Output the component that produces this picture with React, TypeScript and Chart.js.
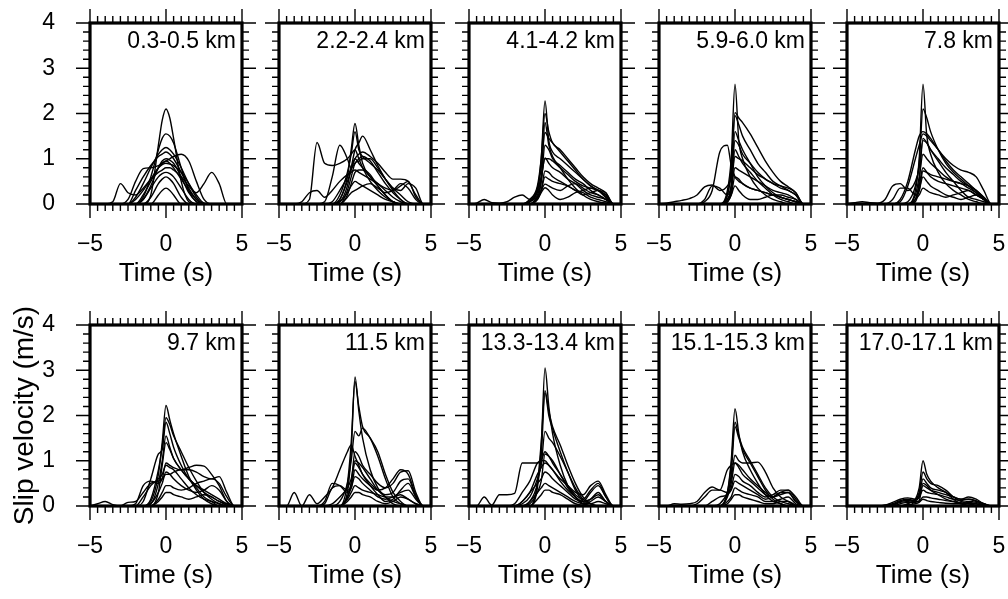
import React, { useEffect, useRef } from "react";
import { Chart, registerables } from "chart.js";
Chart.register(...registerables);

// Shared time samples (s)
const TIME = [-5, -4.5, -4, -3.5, -3, -2.5, -2, -1.5, -1, -0.5, -0.25, 0, 0.25, 0.5, 1, 1.5, 2, 2.5, 3, 3.5, 4, 4.5, 5];
const X_TICKS = [-5, 0, 5];
const Y_TICKS = [0, 1, 2, 3, 4];
const X_MINOR_STEP = 0.5;
const Y_MINOR_STEP = 0.2;
const X_TITLE = "Time (s)";
const Y_TITLE = "Slip velocity (m/s)";
const PANEL_LABELS = [
  "0.3-0.5 km", "2.2-2.4 km", "4.1-4.2 km", "5.9-6.0 km", "7.8 km",
  "9.7 km", "11.5 km", "13.3-13.4 km", "15.1-15.3 km", "17.0-17.1 km",
];

// Slip velocity curves (m/s), one row per curve, sampled at TIME
const P1 = [
  [0,0,0,0,0,0,0,0,0.2,1.3,1.85,2.1,1.9,1.45,0.5,0.05,0,0,0,0,0,0,0],
  [0,0,0,0,0,0,0,0.15,0.6,1.2,1.45,1.55,1.5,1.35,0.8,0.3,0.05,0,0,0,0,0,0],
  [0,0,0,0,0,0,0.15,0.45,0.8,1.1,1.2,1.25,1.2,1.1,0.8,0.45,0.15,0,0,0,0,0,0],
  [0,0,0,0,0,0,0,0.2,0.5,0.8,0.9,0.95,1.0,1.05,1.1,0.95,0.5,0.1,0,0,0,0,0],
  [0,0,0,0,0,0,0.3,0.6,0.85,1.05,1.1,1.15,1.1,1.0,0.7,0.35,0.1,0,0,0,0,0,0],
  [0,0,0,0,0,0.1,0.5,0.78,0.8,0.85,0.9,0.95,0.9,0.8,0.55,0.3,0.1,0,0,0,0,0,0],
  [0,0,0,0.05,0.45,0.25,0.2,0.35,0.55,0.7,0.75,0.8,0.8,0.75,0.6,0.4,0.25,0.45,0.7,0.45,0,0,0],
  [0,0,0,0,0,0,0,0.1,0.35,0.6,0.67,0.7,0.67,0.6,0.35,0.1,0,0,0,0,0,0,0],
  [0,0,0,0,0,0,0,0,0.15,0.45,0.55,0.6,0.55,0.45,0.15,0,0,0,0,0,0,0,0],
  [0,0,0,0,0,0,0,0,0,0.2,0.3,0.35,0.3,0.2,0,0,0,0,0,0,0,0,0],
  [0,0,0,0,0,0,0.1,0.3,0.55,0.8,0.87,0.9,0.88,0.85,0.7,0.45,0.2,0.02,0,0,0,0,0],
  [0,0,0,0,0,0,0,0.1,0.4,0.8,0.95,1.0,0.97,0.9,0.6,0.25,0.05,0,0,0,0,0,0],
];
const P2 = [
  [0,0,0,0,0,0,0,0,0.1,0.6,1.2,1.78,1.3,0.9,0.6,0.4,0.2,0.05,0,0,0,0,0],
  [0,0,0,0,0,0,0,0,0.2,0.7,1.1,1.6,1.2,1.05,0.9,0.75,0.55,0.35,0.2,0.05,0,0,0],
  [0,0,0,0,0.1,1.36,0.9,0.85,0.9,1.0,1.1,1.2,1.0,0.8,0.5,0.3,0.15,0.05,0,0,0,0,0],
  [0,0,0,0,0,0,0.05,0.6,1.3,1.0,0.8,0.9,1.0,1.05,0.95,0.7,0.45,0.25,0.1,0,0,0,0],
  [0,0,0,0.05,0.25,0.3,0.15,0.3,0.5,0.65,0.7,0.75,0.7,0.65,0.55,0.45,0.35,0.3,0.4,0.5,0.15,0,0],
  [0,0,0,0,0,0,0,0,0.05,0.4,0.8,1.2,1.35,1.5,1.2,0.85,0.55,0.3,0.1,0,0,0,0],
  [0,0,0,0,0,0,0,0,0.1,0.5,0.75,1.0,1.1,1.15,1.05,0.9,0.7,0.55,0.55,0.5,0.2,0,0],
  [0,0,0,0,0,0,0,0,0,0.3,0.6,0.9,0.95,1.0,1.0,0.8,0.55,0.35,0.3,0.45,0.35,0,0],
  [0,0,0,0,0,0,0,0,0,0.2,0.45,0.7,0.75,0.75,0.6,0.45,0.3,0.15,0.05,0,0,0,0],
  [0,0,0,0,0,0,0,0,0.05,0.25,0.4,0.5,0.45,0.4,0.3,0.2,0.1,0.05,0,0,0,0,0],
  [0,0,0,0,0,0,0,0.05,0.3,0.6,0.8,1.0,0.9,0.8,0.65,0.4,0.2,0.05,0,0,0,0,0],
  [0,0,0,0,0,0,0,0,0,0.15,0.25,0.3,0.35,0.4,0.45,0.35,0.25,0.3,0.45,0.35,0.1,0,0],
];
const P3 = [
  [0,0,0,0,0,0,0,0,0.05,0.3,1.0,2.28,1.4,1.15,1.0,0.85,0.7,0.55,0.4,0.3,0.15,0,0],
  [0,0,0,0,0,0,0,0,0.1,0.4,1.0,2.0,1.6,1.35,1.2,1.0,0.8,0.6,0.45,0.35,0.25,0,0],
  [0,0,0,0,0,0,0,0,0.1,0.35,0.8,1.58,1.45,1.35,1.15,0.95,0.75,0.55,0.4,0.3,0.2,0,0],
  [0,0,0,0,0,0,0,0,0.05,0.3,0.6,1.0,1.0,0.95,0.8,0.65,0.5,0.4,0.35,0.3,0.25,0,0],
  [0,0,0,0,0,0,0,0,0.05,0.25,0.55,1.02,0.9,0.8,0.7,0.55,0.45,0.3,0.2,0.15,0.1,0,0],
  [0,0.02,0.1,0.03,0.02,0.05,0.15,0.2,0.1,0.15,0.3,0.73,0.7,0.6,0.5,0.4,0.3,0.25,0.15,0.1,0.05,0,0],
  [0,0,0,0,0,0,0,0,0,0.15,0.3,0.44,0.4,0.35,0.3,0.4,0.45,0.35,0.25,0.2,0.1,0,0],
  [0,0,0,0,0,0,0,0,0,0.1,0.25,0.36,0.3,0.2,0.1,0.15,0.25,0.3,0.35,0.3,0.15,0,0],
  [0,0,0,0,0,0,0,0,0,0.2,0.5,1.3,1.2,1.0,0.85,0.7,0.55,0.45,0.3,0.2,0.1,0,0],
  [0,0,0,0,0,0,0,0,0,0.1,0.3,0.6,0.55,0.5,0.45,0.4,0.3,0.2,0.25,0.3,0.2,0,0],
  [0,0,0,0,0,0,0,0,0,0.15,0.5,1.8,1.3,1.05,0.8,0.55,0.35,0.2,0.1,0.05,0.02,0,0],
];
const P4 = [
  [0,0,0,0,0,0,0,0,0,0.3,1.0,2.65,1.4,1.0,0.6,0.35,0.2,0.1,0.05,0,0,0,0],
  [0,0,0,0,0,0,0,0,0,0.2,0.8,2.02,1.9,1.8,1.55,1.25,0.95,0.7,0.5,0.38,0.25,0,0],
  [0,0,0,0,0,0,0,0,0,0.2,0.7,1.95,1.75,1.5,1.2,0.9,0.7,0.5,0.4,0.3,0.2,0,0],
  [0,0,0,0,0,0,0.05,0.3,1.15,1.3,0.85,0.6,0.5,0.45,0.35,0.3,0.25,0.2,0.15,0.1,0.05,0,0],
  [0,0.02,0.05,0.08,0.12,0.2,0.38,0.42,0.3,0.4,0.6,1.4,1.3,1.1,0.9,0.7,0.55,0.45,0.35,0.3,0.2,0,0],
  [0,0,0,0,0,0,0.1,0.4,0.35,0.2,0.4,1.05,1.0,0.95,0.8,0.65,0.55,0.45,0.4,0.35,0.25,0,0],
  [0,0,0,0,0,0,0,0,0,0.1,0.3,0.8,0.75,0.7,0.6,0.5,0.4,0.3,0.25,0.2,0.1,0,0],
  [0,0,0,0,0,0,0,0,0,0.05,0.2,0.4,0.3,0.2,0.1,0.1,0.15,0.2,0.15,0.1,0.05,0,0],
  [0,0,0,0,0,0,0,0,0,0.1,0.4,1.6,1.4,1.2,0.9,0.6,0.4,0.25,0.15,0.1,0.05,0,0],
  [0,0,0,0,0,0,0,0,0,0.05,0.3,1.2,1.05,0.9,0.7,0.5,0.35,0.2,0.1,0.05,0,0,0],
  [0,0,0,0,0,0,0,0,0,0.05,0.2,0.6,0.55,0.45,0.35,0.3,0.25,0.2,0.2,0.15,0.1,0,0],
];
const P5 = [
  [0,0,0,0,0,0,0,0,0,0.3,1.0,2.65,1.5,1.1,0.7,0.45,0.3,0.2,0.1,0.05,0,0,0],
  [0,0,0,0,0,0,0,0,0.05,0.4,0.9,2.1,1.9,1.6,1.2,0.9,0.7,0.55,0.4,0.25,0.1,0,0],
  [0,0,0,0,0,0,0,0.1,0.5,1.2,1.5,1.6,1.55,1.45,1.2,1.0,0.85,0.75,0.7,0.6,0.3,0,0],
  [0,0,0,0,0,0,0,0.05,0.4,1.0,1.3,1.55,1.5,1.4,1.2,0.95,0.75,0.6,0.45,0.3,0.15,0,0],
  [0,0.03,0.05,0.03,0.02,0.1,0.4,0.45,0.3,0.5,0.8,1.4,1.35,1.2,1.0,0.8,0.65,0.5,0.4,0.3,0.15,0,0],
  [0,0,0,0,0,0,0.1,0.35,0.35,0.2,0.3,0.73,0.7,0.65,0.6,0.55,0.5,0.45,0.35,0.25,0.1,0,0],
  [0,0,0,0,0,0,0,0,0,0.1,0.2,0.35,0.3,0.25,0.2,0.15,0.2,0.25,0.3,0.2,0.1,0,0],
  [0,0,0,0,0,0,0,0,0,0.2,0.6,1.1,1.0,0.9,0.75,0.6,0.5,0.45,0.4,0.3,0.1,0,0],
  [0,0,0,0,0,0,0,0,0,0.1,0.4,0.8,0.7,0.6,0.5,0.45,0.4,0.35,0.3,0.2,0.1,0,0],
  [0,0,0,0,0,0,0,0,0,0.05,0.3,0.6,0.5,0.4,0.3,0.2,0.15,0.1,0.15,0.2,0.1,0,0],
  [0,0,0,0,0,0,0,0,0,0.1,0.5,1.45,1.35,1.2,0.95,0.7,0.5,0.3,0.15,0.1,0.05,0,0],
];
const P6 = [
  [0,0,0,0,0,0,0,0,0.1,0.7,1.4,2.22,1.9,1.6,1.1,0.65,0.35,0.15,0.05,0,0,0,0],
  [0,0,0,0,0,0,0,0,0.15,0.8,1.3,1.95,1.8,1.55,1.2,0.85,0.55,0.3,0.15,0.05,0,0,0],
  [0,0,0,0,0,0,0,0.1,0.6,1.15,1.25,1.85,1.6,1.3,0.9,0.6,0.4,0.2,0.1,0,0,0,0],
  [0,0,0,0,0,0,0,0,0.05,0.5,1.0,1.55,1.3,1.05,0.8,0.6,0.45,0.35,0.25,0.15,0.05,0,0],
  [0,0,0,0,0,0,0.05,0.45,0.55,0.5,0.6,0.95,0.9,0.85,0.8,0.85,0.9,0.88,0.7,0.45,0.1,0,0],
  [0,0.05,0.1,0.03,0,0.08,0.1,0.3,0.5,0.55,0.6,0.7,0.7,0.75,0.8,0.8,0.75,0.65,0.6,0.65,0.3,0,0],
  [0,0,0,0,0,0,0,0,0,0.15,0.3,0.45,0.45,0.4,0.35,0.4,0.5,0.55,0.6,0.5,0.2,0,0],
  [0,0,0,0,0,0,0,0,0,0.3,0.9,1.4,1.25,1.05,0.8,0.6,0.45,0.3,0.2,0.1,0.02,0,0],
  [0,0,0,0,0,0,0,0,0.05,0.3,0.5,0.75,0.7,0.6,0.45,0.35,0.3,0.35,0.45,0.35,0.1,0,0],
  [0,0,0,0,0,0,0,0,0,0.1,0.2,0.3,0.3,0.25,0.2,0.15,0.2,0.25,0.2,0.1,0.05,0,0],
  [0,0,0,0,0,0,0,0.2,0.45,0.6,0.7,0.9,0.85,0.8,0.6,0.4,0.25,0.15,0.1,0.05,0,0,0],
];
const P7 = [
  [0,0,0,0,0,0,0,0,0,0.3,1.2,2.85,2.1,1.5,0.8,0.4,0.2,0.05,0,0,0,0,0],
  [0,0,0,0,0,0,0,0,0,0.5,1.4,2.75,2.2,1.75,1.5,1.1,0.6,0.2,0.05,0,0,0,0],
  [0,0,0,0,0,0,0,0,0.1,0.5,1.0,1.65,1.55,1.72,1.5,1.2,0.7,0.3,0.1,0,0,0,0],
  [0,0,0.3,0,0.25,0.05,0.2,0.4,0.8,1.2,1.35,1.1,0.9,0.7,0.45,0.25,0.1,0.15,0.35,0.5,0.2,0,0],
  [0,0,0,0,0,0,0.1,0.5,0.45,0.3,0.5,1.2,1.1,0.9,0.7,0.5,0.4,0.5,0.75,0.78,0.3,0,0],
  [0,0,0,0,0,0,0.05,0.4,0.45,0.35,0.4,0.8,0.7,0.6,0.45,0.35,0.4,0.6,0.8,0.7,0.25,0,0],
  [0,0,0,0,0,0,0,0,0,0.2,0.4,0.65,0.6,0.5,0.35,0.2,0.15,0.2,0.3,0.35,0.15,0,0],
  [0,0,0,0,0,0,0,0,0,0.15,0.3,0.45,0.4,0.35,0.3,0.25,0.2,0.2,0.25,0.15,0.05,0,0],
  [0,0,0,0,0,0,0,0,0,0.1,0.2,0.3,0.3,0.25,0.2,0.1,0.05,0.1,0.2,0.15,0.05,0,0],
  [0,0,0,0,0,0,0,0,0,0.2,0.5,0.95,0.85,0.7,0.5,0.35,0.25,0.3,0.55,0.6,0.2,0,0],
  [0,0,0,0,0,0,0,0.05,0.2,0.4,0.6,1.0,0.95,0.85,0.6,0.35,0.2,0.1,0.05,0,0,0,0],
];
const P8 = [
  [0,0,0,0,0,0,0,0,0,0.4,1.3,3.05,2.2,1.6,0.9,0.45,0.2,0.05,0,0,0,0,0],
  [0,0,0,0,0,0,0,0,0,0.5,1.4,2.55,2.1,1.75,1.35,0.9,0.5,0.2,0.05,0,0,0,0],
  [0,0,0,0,0,0,0,0,0.1,0.5,1.1,2.5,2.0,1.7,1.2,0.75,0.35,0.1,0,0,0,0,0],
  [0,0,0,0,0,0,0,0.05,0.2,0.6,0.9,1.65,1.5,1.4,1.1,0.75,0.4,0.15,0.05,0,0,0,0],
  [0,0,0.2,0.02,0.25,0.25,0.28,0.95,0.95,0.95,1.0,1.2,1.1,0.95,0.7,0.45,0.25,0.15,0.35,0.5,0.2,0,0],
  [0,0,0,0,0,0,0.05,0.3,0.55,0.95,1.0,1.0,0.9,0.8,0.6,0.45,0.3,0.25,0.45,0.55,0.25,0,0],
  [0,0,0,0,0,0,0,0.1,0.3,0.5,0.6,0.75,0.7,0.6,0.45,0.3,0.15,0.1,0.3,0.45,0.2,0,0],
  [0,0,0,0,0,0,0,0,0.1,0.3,0.4,0.5,0.45,0.4,0.3,0.2,0.1,0.05,0.15,0.3,0.1,0,0],
  [0,0,0,0,0,0,0,0,0,0.15,0.25,0.35,0.35,0.3,0.25,0.15,0.05,0.02,0.1,0.2,0.1,0,0],
  [0,0,0,0,0,0,0,0.1,0.3,0.7,0.85,0.95,0.9,0.8,0.55,0.35,0.2,0.1,0.15,0.25,0.1,0,0],
  [0,0,0,0,0,0,0,0,0.05,0.3,0.55,1.15,1.1,1.0,0.7,0.4,0.2,0.05,0.05,0.1,0.05,0,0],
];
const P9 = [
  [0,0,0,0,0,0,0,0,0,0.3,1.0,2.15,1.6,1.2,0.8,0.5,0.25,0.1,0.05,0,0,0,0],
  [0,0,0,0,0,0,0,0,0,0.3,0.9,1.85,1.55,1.3,1.0,0.7,0.4,0.2,0.1,0.05,0,0,0],
  [0,0,0,0,0,0,0,0,0,0.25,0.7,1.75,1.5,1.25,0.95,0.65,0.35,0.15,0.05,0,0,0,0],
  [0,0,0,0,0,0,0,0,0.05,0.3,0.6,1.12,1.0,0.95,0.95,0.97,0.75,0.4,0.2,0.1,0,0,0],
  [0,0,0.05,0.04,0.05,0.1,0.3,0.42,0.35,0.8,0.9,0.95,0.85,0.7,0.55,0.4,0.25,0.2,0.3,0.35,0.2,0,0],
  [0,0,0,0,0,0.05,0.2,0.35,0.35,0.3,0.4,0.7,0.65,0.55,0.45,0.3,0.2,0.25,0.35,0.35,0.15,0,0],
  [0,0,0,0,0,0,0,0.1,0.2,0.25,0.35,0.55,0.5,0.45,0.35,0.25,0.15,0.2,0.3,0.3,0.1,0,0],
  [0,0,0,0,0,0,0,0,0,0.1,0.2,0.4,0.35,0.3,0.25,0.2,0.1,0.1,0.15,0.2,0.05,0,0],
  [0,0,0,0,0,0,0,0,0,0.05,0.15,0.25,0.25,0.2,0.15,0.1,0.05,0.05,0.1,0.1,0.02,0,0],
  [0,0,0,0,0,0,0,0,0,0.2,0.5,0.95,0.9,0.8,0.6,0.45,0.3,0.2,0.25,0.3,0.1,0,0],
];
const P10 = [
  [0,0,0,0,0,0,0,0,0,0.15,0.4,1.0,0.7,0.55,0.4,0.3,0.15,0.05,0.02,0,0,0,0],
  [0,0,0,0,0,0,0,0,0.05,0.15,0.3,0.75,0.6,0.5,0.45,0.35,0.2,0.1,0.05,0.02,0,0,0],
  [0,0,0,0,0,0,0.02,0.08,0.1,0.15,0.25,0.6,0.5,0.4,0.35,0.3,0.2,0.15,0.15,0.1,0.05,0,0],
  [0,0,0,0,0,0.02,0.05,0.12,0.15,0.12,0.2,0.45,0.4,0.35,0.3,0.25,0.2,0.15,0.2,0.15,0.05,0,0],
  [0,0,0,0,0,0.02,0.08,0.15,0.18,0.15,0.2,0.35,0.3,0.28,0.25,0.2,0.15,0.12,0.15,0.12,0.05,0,0],
  [0,0,0,0,0,0,0.03,0.1,0.12,0.1,0.1,0.2,0.2,0.18,0.15,0.12,0.1,0.08,0.1,0.08,0.02,0,0],
  [0,0,0,0,0,0,0,0.05,0.08,0.08,0.12,0.5,0.45,0.35,0.25,0.15,0.1,0.05,0.05,0.05,0,0,0],
  [0,0,0,0,0,0,0,0,0.03,0.05,0.08,0.15,0.12,0.1,0.08,0.06,0.05,0.05,0.08,0.05,0,0,0],
];
const PANELS = [P1, P2, P3, P4, P5, P6, P7, P8, P9, P10];

// Layout
const FONT = '"Liberation Sans", Arial, Helvetica, sans-serif';
const COL_LEFT = [0, 189, 379, 569, 757];
const ROW_TOP = [0, 302];
const CW = 262;
const CH = 299;
const PAD_TOP = 23;
const PAD_RIGHT = 20;
const Y_AXIS_W = 90;
const X_AXIS_H = 95;

const fmt = (v: number) => (v < 0 ? "\u2212" + Math.abs(v) : String(v));

const zeroPad = (s: any) => {
  s.paddingLeft = 0;
  s.paddingRight = 0;
  s.paddingTop = 0;
  s.paddingBottom = 0;
};

const framePlugin = {
  id: "frame",
  afterDatasetsDraw(chart: any, _args: any, opts: any) {
    const { ctx, chartArea, scales } = chart;
    const { left, right, top, bottom } = chartArea;
    const xs = scales.x;
    const ys = scales.y;
    ctx.save();
    ctx.strokeStyle = "#000";
    ctx.lineWidth = 1.4;
    ctx.beginPath();
    const nx = Math.round((xs.max - xs.min) / X_MINOR_STEP);
    for (let i = 0; i <= nx; i++) {
      const v = xs.min + i * X_MINOR_STEP;
      const major = X_TICKS.some((t) => Math.abs(t - v) < 1e-6);
      const len = major ? 14 : 7;
      const px = xs.getPixelForValue(v);
      ctx.moveTo(px, top);
      ctx.lineTo(px, top - len);
      ctx.moveTo(px, bottom);
      ctx.lineTo(px, bottom + len);
    }
    const ny = Math.round((ys.max - ys.min) / Y_MINOR_STEP);
    for (let i = 0; i <= ny; i++) {
      const v = ys.min + i * Y_MINOR_STEP;
      const major = Y_TICKS.some((t) => Math.abs(t - v) < 1e-6);
      const len = major ? 14 : 7;
      const py = ys.getPixelForValue(v);
      ctx.moveTo(left, py);
      ctx.lineTo(left - len, py);
      ctx.moveTo(right, py);
      ctx.lineTo(right + len, py);
    }
    ctx.stroke();
    ctx.lineWidth = 3.2;
    ctx.strokeRect(left, top, right - left, bottom - top);
    ctx.fillStyle = "#000";
    ctx.font = `23px ${FONT}`;
    ctx.textAlign = "right";
    ctx.textBaseline = "alphabetic";
    ctx.fillText(opts.label, right - 6, top + 25);
    ctx.restore();
  },
};

function Panel(props: {
  series: number[][];
  label: string;
  left: number;
  top: number;
  showYLabels: boolean;
  showYTitle: boolean;
}) {
  const ref = useRef<HTMLCanvasElement>(null);
  useEffect(() => {
    const chart = new Chart(ref.current as HTMLCanvasElement, {
      type: "line",
      data: {
        datasets: props.series.map((vals) => ({
          data: vals.map((v, i) => ({ x: TIME[i], y: v })),
          borderColor: "#000",
          borderWidth: 1.4,
          pointRadius: 0,
          fill: false,
          cubicInterpolationMode: "monotone" as const,
        })),
      },
      options: {
        animation: false,
        responsive: false,
        events: [],
        layout: { padding: { top: PAD_TOP, right: PAD_RIGHT, left: 0, bottom: 0 } },
        plugins: {
          legend: { display: false },
          tooltip: { enabled: false },
          // @ts-ignore
          frame: { label: props.label },
        },
        scales: {
          x: {
            type: "linear",
            min: -5,
            max: 5,
            afterFit: (s: any) => {
              s.height = X_AXIS_H;
              zeroPad(s);
            },
            grid: { display: false },
            border: { display: false },
            ticks: {
              stepSize: 5,
              padding: 19,
              color: "#000",
              maxRotation: 0,
              autoSkip: false,
              font: { family: FONT, size: 23 },
              callback: (v: any) => fmt(Number(v)),
            },
            title: {
              display: true,
              text: X_TITLE,
              color: "#000",
              font: { family: FONT, size: 26 },
              padding: { top: 0, bottom: 10 },
            },
          },
          y: {
            type: "linear",
            min: 0,
            max: 4,
            afterFit: (s: any) => {
              s.width = Y_AXIS_W;
              zeroPad(s);
            },
            grid: { display: false },
            border: { display: false },
            ticks: {
              display: props.showYLabels,
              stepSize: 1,
              padding: 27,
              color: "#000",
              font: { family: FONT, size: 23 },
            },
            title: {
              display: props.showYTitle,
              text: Y_TITLE,
              color: "#000",
              font: { family: FONT, size: 28 },
              padding: { top: 8, bottom: 0 },
            },
          },
        },
      },
      plugins: [framePlugin],
    } as any);
    return () => chart.destroy();
  }, []);
  return (
    <canvas
      ref={ref}
      width={CW}
      height={CH}
      style={{ position: "absolute", left: props.left, top: props.top, width: CW, height: CH }}
    />
  );
}

export default function App() {
  return (
    <div
      style={{
        position: "absolute",
        left: 0,
        top: 0,
        width: 1008,
        height: 599,
        overflow: "hidden",
        background: "#fff",
      }}
    >
      {PANELS.map((series, i) => (
        <Panel
          key={i}
          series={series}
          label={PANEL_LABELS[i]}
          left={COL_LEFT[i % 5]}
          top={ROW_TOP[Math.floor(i / 5)]}
          showYLabels={i % 5 === 0}
          showYTitle={i === 5}
        />
      ))}
    </div>
  );
}
